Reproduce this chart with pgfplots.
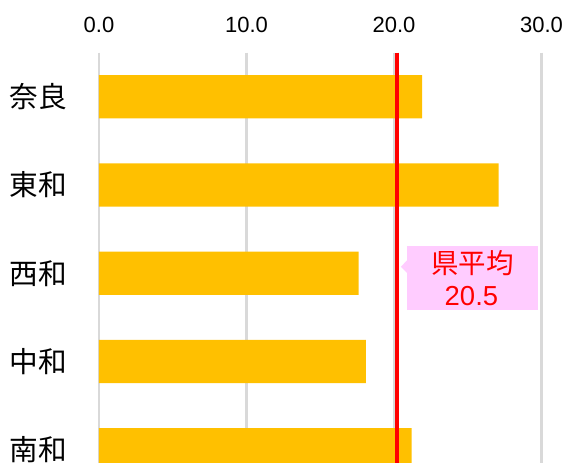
\documentclass[border=0pt]{standalone}
\usepackage{fontspec}
\setmainfont{Liberation Sans}
\newfontfamily\jp{Noto Sans CJK JP}
\usepackage{pgfplots}
\pgfplotsset{compat=1.18}
\definecolor{barc}{HTML}{FFC000}
\definecolor{gridc}{HTML}{D9D9D9}
\definecolor{pinkc}{HTML}{FFCCFF}
\definecolor{redc}{HTML}{FF0000}
\begin{document}
\begin{tikzpicture}
\begin{axis}[
  at={(0,0)}, anchor=south west,
  scale only axis,
  width=331.875pt, height=331.1pt,
  xmin=0, xmax=30,
  ymin=-0.5, ymax=4.5,
  y dir=reverse,
  xtick={0,10,20,30},
  ytick={0,1,2,3,4},
  yticklabels={奈良,東和,西和,中和,南和},
  xticklabel pos=upper,
  axis line style={draw=none},
  major tick length=0pt,
  tick style={draw=none},
  xmajorgrids,
  grid style={draw=gridc, line width=1.6pt},
  /pgf/number format/assume math mode=true,
  xticklabel={\pgfmathprintnumber[fixed,fixed zerofill,precision=1]{\tick}},
  xticklabel style={font=\fontsize{16.5pt}{18pt}\selectfont, anchor=base, inner sep=0pt, yshift=15pt},
  yticklabel style={font=\jp\fontsize{21.5pt}{24pt}\selectfont, anchor=east, inner sep=0pt, xshift=-24pt},
  xbar, bar width=32.5pt,
]
\addplot[fill=barc, draw=none] coordinates {(21.9,0) (27.1,1) (17.6,2) (18.1,3) (21.2,4)};
\addplot[xbar=0pt, draw=redc, line width=3pt, sharp plot] coordinates {(20.2,-0.5) (20.2,4.5)};
\fill[pinkc] (axis cs:20.88,1.69) rectangle (axis cs:29.76,2.42);
\fill[pinkc] (axis cs:20.47,1.926) -- (axis cs:20.9,1.85) -- (axis cs:20.9,2.0) -- cycle;
\node[text=redc, font=\jp\fontsize{20.6pt}{24pt}\selectfont, anchor=center, inner sep=0pt] at (axis cs:25.32,1.887) {県平均};
\node[text=redc, font=\fontsize{20.6pt}{24pt}\selectfont, anchor=base, inner sep=0pt] at (axis cs:25.25,2.36) {20.5};
\end{axis}
\pgfresetboundingbox
\path[use as bounding box] (-74.25pt,23.25pt) rectangle (351pt,370.5pt);
\end{tikzpicture}
\end{document}
